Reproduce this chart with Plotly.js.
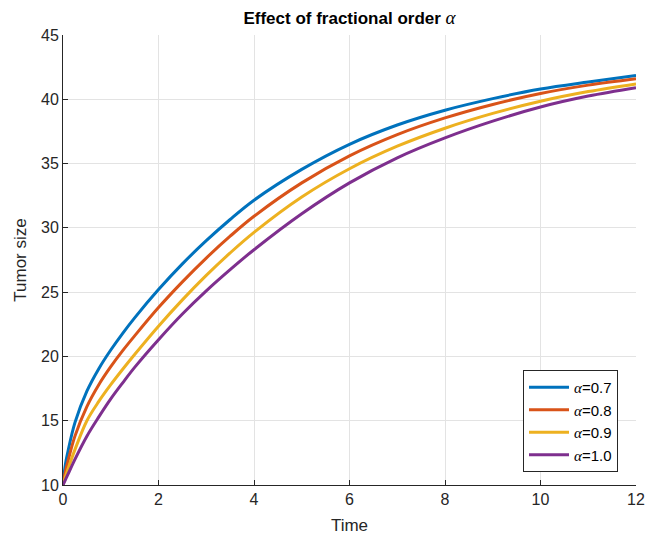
<!DOCTYPE html>
<html>
<head>
<meta charset="utf-8">
<script src="https://cdn.plot.ly/plotly-3.0.1.min.js"></script>
<style>html,body{margin:0;padding:0;background:#fff;}#chart{width:648px;height:535px;}</style>
</head>
<body>
<div id="chart"></div>
<script>
// Time points
var time = [0, 0.05, 0.1, 0.25, 0.5, 0.75, 1, 1.25, 1.5, 2, 2.5, 3, 3.5, 4, 5, 6, 7, 8, 9, 10, 11, 12];
// Tumor size for each fractional order
var alpha07 = [10, 11.6, 12.55, 14.85, 17.3, 19.05, 20.5, 21.8, 23.0, 25.2, 27.2, 29.0, 30.65, 32.15, 34.55, 36.5, 38.0, 39.15, 40.05, 40.8, 41.35, 41.85];
var alpha08 = [10, 11.05, 11.8, 13.8, 16.1, 17.8, 19.2, 20.45, 21.6, 23.8, 25.8, 27.65, 29.35, 30.9, 33.5, 35.6, 37.25, 38.55, 39.6, 40.45, 41.1, 41.6];
var alpha09 = [10, 10.65, 11.2, 12.75, 15.0, 16.5, 17.8, 19.0, 20.15, 22.35, 24.4, 26.3, 28.05, 29.65, 32.4, 34.6, 36.35, 37.75, 38.9, 39.85, 40.6, 41.2];
var alpha10 = [10, 10.4, 10.8, 12.0, 13.8, 15.3, 16.7, 17.95, 19.15, 21.3, 23.3, 25.1, 26.75, 28.3, 31.1, 33.5, 35.45, 37.0, 38.3, 39.4, 40.25, 40.9];
var seriesNames = ['0.7', '0.8', '0.9', '1.0'];
var seriesColors = ['#0072BD', '#D95319', '#EDB120', '#7E2F8E'];
var xTicks = [0, 2, 4, 6, 8, 10, 12];
var yTicks = [10, 15, 20, 25, 30, 35, 40, 45];

var alphaSym = '<span style="font-family:\'Liberation Serif\',\'DejaVu Serif\',serif;font-style:italic;font-weight:normal;">α</span>';
var allY = [alpha07, alpha08, alpha09, alpha10];
var traces = allY.map(function (ys, i) {
  return {
    x: time, y: ys, type: 'scatter', mode: 'lines',
    name: alphaSym + '=' + seriesNames[i],
    line: {color: seriesColors[i], width: 3, shape: 'spline', smoothing: 1}
  };
});

var FONT = 'Liberation Sans, Arial, Helvetica, sans-serif';
var axisCommon = {
  showline: true, linecolor: '#262626', linewidth: 1, mirror: false,
  ticks: 'inside', ticklen: 5, tickcolor: '#262626', tickwidth: 1,
  showgrid: true, gridcolor: '#e3e3e3', gridwidth: 1, zeroline: false,
  tickfont: {family: FONT, size: 16, color: '#262626'}
};

var layout = {
  width: 648, height: 535,
  paper_bgcolor: '#ffffff', plot_bgcolor: '#ffffff',
  margin: {l: 63, r: 12, t: 35, b: 50},
  showlegend: true,
  title: {
    text: 'Effect of fractional order ' + '<span style="font-family:\'Liberation Serif\',\'DejaVu Serif\',serif;font-style:italic;font-weight:normal;font-size:19px;">α</span>',
    font: {family: FONT, size: 17, color: '#000000', weight: 'bold'},
    x: 0.5, xref: 'paper', xanchor: 'center', y: 0.966, yanchor: 'middle'
  },
  xaxis: Object.assign({}, axisCommon, {
    range: [0, 12], tickvals: xTicks, ticktext: xTicks.map(String),
    title: {text: 'Time', font: {family: FONT, size: 17, color: '#262626'}, standoff: 12}
  }),
  yaxis: Object.assign({}, axisCommon, {
    range: [10, 45], tickvals: yTicks, ticktext: yTicks.map(String),
    title: {text: 'Tumor size', font: {family: FONT, size: 17, color: '#262626'}, standoff: 10}
  }),
  legend: {
    x: 0.9686, y: 0.029, xanchor: 'right', yanchor: 'bottom',
    bgcolor: '#ffffff', bordercolor: '#262626', borderwidth: 1,
    font: {family: FONT, size: 15, color: '#000000'},
    tracegroupgap: 0, itemwidth: 40
  }
};

Plotly.newPlot('chart', traces, layout, {displayModeBar: false, staticPlot: true});
</script>
</body>
</html>
